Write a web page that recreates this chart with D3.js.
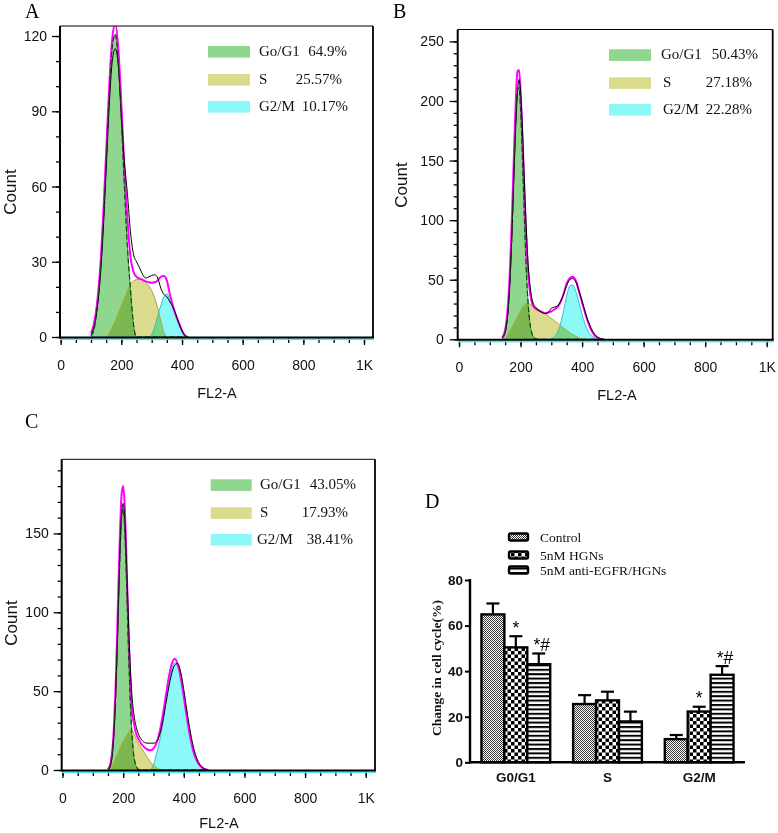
<!DOCTYPE html>
<html><head><meta charset="utf-8">
<script src="https://cdn.jsdelivr.net/npm/d3@7"></script>
<style>body{margin:0;background:#fff}svg{display:block}</style>
</head><body>
<svg id="fig" width="778" height="833"></svg>
<script>
// ---------- shared tick data ----------
const xMajor = [0,200,400,600,800,1000];
const xLabels = ["0","200","400","600","800","1K"];
const xMinor = [0,50,100,150,200,250,300,350,400,450,500,550,600,650,700,750,800,850,900,950,1000];

// ---------- Panel A ----------
const aX    = [100,110,120,130,140,150,160,170,180,190,200,210,220,230,240,250,260,270,280,290,300,310,320,330,340,350,360,370,380,390,400,410,420];
const aG1   = [0.5,3,12,25,45,70.7,96.9,115.8,120.7,109.6,86.8,60,36,19,5,0,0,0,0,0,0,0,0,0,0,0,0,0,0,0,0,0,0];
const aS    = [0,0,0,0,0,0,1.5,4,6.5,9.5,12.5,15.5,18.5,21,22.3,22.9,23,22.6,21.8,20.5,18.5,15.5,11.5,6.5,2,0,0,0,0,0,0,0,0];
const aG2   = [0,0,0,0,0,0,0,0,0,0,0,0,0,0,0,0,0,0,0,0,1,4,8.5,12.5,16,17.2,14.8,11.5,8,5,2,0.3,0];
const aFit  = [1.5,5.5,13.5,27,48,74,100,119,125,115,93,67,47,32,26,24,23.3,22.8,22.2,21.8,21.6,21.8,22.5,24,24.3,22.5,17,12.5,8.5,5.5,2.5,0.6,0];
const aData = [0.8,4,11,23,42,67,92,110,115,108,88,70,57,42,33,30,27.6,25,23.5,24,24.5,24.8,23.5,19.5,17,16,14,12,9,5.5,2.5,0.5,0];
const aYTicks = [0,30,60,90,120];
const aYMinor = [0,10,20,30,40,50,60,70,80,90,100,110,120];
const aLegend = [["Go/G1","64.9%"],["S","25.57%"],["G2/M","10.17%"]];

// ---------- Panel B ----------
const bX    = [140,145,150,155,160,165,170,175,180,185,190,195,200,205,210,215,220,225,230,235,240,250,260,270,280,290,300,310,320,330,340,350,360,370,380,390,400,410,420,430,440,450,460,470];
const bG1   = [0.9,2.4,5.8,12.7,25.4,46.1,75.8,113.1,153.2,188,209.3,211.3,193.6,160.8,121.2,82.8,51.3,28.8,14.7,6.8,2.9,0.3,0,0,0,0,0,0,0,0,0,0,0,0,0,0,0,0,0,0,0,0,0,0];
const bS    = [0,0,0,2,4,6.5,9,11.5,14,16.5,19,21.5,24,26,28,29.2,30,30,29.5,28.7,28,26.5,25,23.5,21.5,19.5,17.5,15.5,13.5,11.5,9.5,7.5,5.5,4,2.5,1.2,0.3,0,0,0,0,0,0,0];
const bG2   = [0,0,0,0,0,0,0,0,0,0,0,0,0,0,0,0,0,0,0,0,0,0,0,0,0,0,0.6,2,5.7,13,24.1,36.5,44.8,45.5,39.8,30.8,21,12.6,6.7,3.1,1.3,0.4,0,0];
const bFit  = [1.5,3.5,8,17,32,55,87,126,167,203,225,226,209,178,142,106,76,55,41,33,28.5,25.5,24,22.8,22,22.5,23.5,25,27,31,38,47,51.5,52.5,49,40,31,22,14,7.5,3.5,1.2,0.3,0];
const bData = [1,2.5,6,13,26,46,75,110,148,182,207,218,208,184,150,116,86,62,47,37,31,26.5,24,22.5,21.5,22.5,26,27,28,32,38,45,50,51,48,41,32,23,15,9,4.5,2,0.5,0];
const bYTicks = [0,50,100,150,200,250];
const bYMinor = [0,10,20,30,40,50,60,70,80,90,100,110,120,130,140,150,160,170,180,190,200,210,220,230,240,250];
const bLegend = [["Go/G1","50.43%"],["S","27.18%"],["G2/M","22.28%"]];

// ---------- Panel C ----------
const cX    = [150,155,160,165,170,175,180,185,190,195,200,205,210,215,220,225,230,235,240,245,250,260,270,280,290,300,310,320,330,340,350,360,370,380,390,400,410,420,430,440,450,460,470,480];
const cG1   = [0.7,2.2,5.6,12.7,25.6,46.1,74.4,107.4,138.7,160.2,165.6,153.2,126.8,94,62.3,37,19.6,9.3,4,1.5,0.5,0,0,0,0,0,0,0,0,0,0,0,0,0,0,0,0,0,0,0,0,0,0,0];
const cS    = [0,0,1,3,5,7.2,9.5,11.8,14,16,18,19.8,21.5,23,24.5,25.7,25,23,21,19,17,14,11,8,5,3,1.5,0.5,0,0,0,0,0,0,0,0,0,0,0,0,0,0,0,0];
const cG2   = [0,0,0,0,0,0,0,0,0,0,0,0,0,0,0,0,0,0,0,0,0,0,0,0,0.5,3,10.4,18.2,28.7,41.2,53.7,63.4,67.9,65.9,58,46.4,33.6,22.1,13.2,7.1,3.5,1.6,0.6,0];
const cFit  = [0.5,2,6,14,29,52,84,120,153,175,180,168,140,106,74,50,36,30,25,22,20,16.5,14.5,13,12.5,13.5,17,24,34,46,58,67,70.5,67,58.5,46.5,33.5,22,13,7,3.5,1.5,0.5,0];
const cData = [0.3,1,4,11,25,46,76,110,142,163,169,160,138,110,82,60,45,36,30,26,23,19.5,17.5,17,17,17,18,22,30,41,52,61,66.5,67.5,62,51,38,26,16,9,4.5,2,0.5,0];
const cYTicks = [0,50,100,150];
const cYMinor = [0,10,20,30,40,50,60,70,80,90,100,110,120,130,140,150,160,170,180,190];
const cLegend = [["Go/G1","43.05%"],["S","17.93%"],["G2/M","38.41%"]];

// ---------- Panel D ----------
const phases = ["G0/G1","S","G2/M"];
const groups = ["Control","5nM HGNs","5nM anti-EGFR/HGNs"];
const controlVals = [64.9,25.57,10.17];
const hgnVals     = [50.43,27.18,22.28];
const antiVals    = [43.05,17.93,38.41];
const controlErr  = [4.8,3.9,1.8];
const hgnErr      = [4.9,3.8,2.1];
const antiErr     = [4.7,4.3,3.8];
const dYTicks = [0,20,40,60,80];
const sigMarks = [["G0/G1",1,"*"],["G0/G1",2,"*#"],["G2/M",1,"*"],["G2/M",2,"*#"]];

// ---------- drawing ----------
const SANS = "'Liberation Sans', Arial, sans-serif";
const SERIF = "'Liberation Serif', 'Times New Roman', serif";
const GREEN = "#8fd68f", YELLOW = "#dadb8c", CYAN = "#8cf8f8";
const svg = d3.select("#fig");
const defs = svg.append("defs");

function drawHist(p){
  const x = d3.scaleLinear().domain([0,1000]).range([p.x0,p.x1000]);
  const y = d3.scaleLinear().domain([0,p.ymax]).range([p.y0,p.top]);
  const g = svg.append("g");
  defs.append("clipPath").attr("id","clip"+p.id).append("rect")
    .attr("x",p.left).attr("y",p.top).attr("width",p.right-p.left).attr("height",p.y0-p.top);
  const plot = g.append("g").attr("clip-path",`url(#clip${p.id})`);
  const fl = plot.append("g").style("isolation","isolate");
  const area = d3.area().x((d,i)=>x(p.xs[i])).y0(y(0)).y1(d=>y(d)).curve(d3.curveMonotoneX);
  const line = d3.line().x((d,i)=>x(p.xs[i])).y(d=>y(d)).curve(d3.curveMonotoneX);
  const comps = [[p.g1,GREEN,"#2f9f2f"],[p.s,YELLOW,"#a9a93c"],[p.g2,CYAN,"#3ab9c6"]];
  comps.forEach(c=>fl.append("path").datum(c[0]).attr("d",area).attr("fill",c[1]).style("mix-blend-mode","multiply"));
  comps.forEach(c=>plot.append("path").datum(c[0]).attr("d",line).attr("fill","none").attr("stroke",c[2]).attr("stroke-width",1));
  plot.append("path").datum(p.fit).attr("d",line).attr("fill","none").attr("stroke","#ff00ff").attr("stroke-width",2);
  plot.append("path").datum(p.data).attr("d",line).attr("fill","none").attr("stroke","#000").attr("stroke-width",1);
  plot.append("path").datum(p.g1).attr("d",line).attr("fill","none").attr("stroke","#1d3f1d").attr("stroke-width",1.2).attr("stroke-dasharray","5,3");

  // axes
  const ax = g.append("g");
  const yA = ax.append("g").attr("transform",`translate(${p.left},0)`)
    .call(d3.axisLeft(y).tickValues(p.yMajor).tickSize(8).tickPadding(p.yPad||5));
  const yM = ax.append("g").attr("transform",`translate(${p.left},0)`)
    .call(d3.axisLeft(y).tickValues(p.yMinor).tickSize(4).tickFormat(""));
  const xA = ax.append("g").attr("transform",`translate(0,${p.y0+1})`)
    .call(d3.axisBottom(x).tickValues(xMajor).tickSize(7).tickPadding(15).tickFormat((d,i)=>xLabels[i]));
  const xM = ax.append("g").attr("transform",`translate(0,${p.y0+1})`)
    .call(d3.axisBottom(x).tickValues(xMinor).tickSize(5).tickFormat(""));
  [yA,yM,xA,xM].forEach(s=>{
    s.select(".domain").remove();
    s.selectAll("line").attr("stroke","#000").attr("stroke-width",1.3);
    s.selectAll("text").attr("font-family",SANS).attr("font-size",14).attr("fill","#111");
  });
  // frame
  g.append("rect").attr("x",p.left).attr("y",p.y0+1.3).attr("width",p.right-p.left+1).attr("height",1.8).attr("fill","#4fe6f0");
  g.append("line").attr("x1",p.left).attr("x2",p.right+1).attr("y1",p.y0+0.5).attr("y2",p.y0+0.5).attr("stroke","#000").attr("stroke-width",2);
  g.append("line").attr("x1",p.left).attr("x2",p.left).attr("y1",p.top).attr("y2",p.y0+1.5).attr("stroke","#000").attr("stroke-width",2);
  g.append("line").attr("x1",p.left).attr("x2",p.right).attr("y1",p.top).attr("y2",p.top).attr("stroke","#000").attr("stroke-width",1);
  g.append("line").attr("x1",p.right).attr("x2",p.right).attr("y1",p.top).attr("y2",p.y0+1).attr("stroke","#000").attr("stroke-width",1.8);

  // titles
  g.append("text").attr("x",p.xTitle[0]).attr("y",p.xTitle[1]).attr("text-anchor","middle")
    .attr("font-family",SANS).attr("font-size",14.5).attr("fill","#111").text("FL2-A");
  g.append("text").attr("transform",`translate(${p.yTitle[0]},${p.yTitle[1]}) rotate(-90)`).attr("text-anchor","middle")
    .attr("font-family",SANS).attr("font-size",17).attr("fill","#111").text("Count");
  g.append("text").attr("x",p.letter[0]).attr("y",p.letter[1]).attr("font-family",SERIF).attr("font-size",20).text(p.id);

  // legend
  const sw = [GREEN, YELLOW, CYAN];
  p.legend.forEach((L,i)=>{
    g.append("rect").attr("x",p.lg.sx).attr("y",p.lg.rows[i]).attr("width",p.lg.sw).attr("height",11.6).attr("fill",sw[i]);
    g.append("text").attr("x",p.lg.lx[i]).attr("y",p.lg.rows[i]+10).attr("font-family",SERIF).attr("font-size",15).attr("fill","#111").text(L[0]);
    g.append("text").attr("x",p.lg.vx[i]).attr("y",p.lg.rows[i]+10).attr("text-anchor","end").attr("font-family",SERIF).attr("font-size",15).attr("fill","#111").text(L[1]);
  });
}

drawHist({id:"A", xs:aX, g1:aG1, s:aS, g2:aG2, fit:aFit, data:aData, yMajor:aYTicks, yMinor:aYMinor, legend:aLegend,
  x0:60.7, x1000:364, left:60, right:373, top:26, y0:337, ymax:124,
  xTitle:[217,398], yTitle:[15.5,192], letter:[25,18],
  lg:{sx:208, sw:42, rows:[46,74,101], lx:[259,259,259], vx:[347,342,348]}});
drawHist({id:"B", xs:bX, g1:bG1, s:bS, g2:bG2, fit:bFit, data:bData, yMajor:bYTicks, yMinor:bYMinor, legend:bLegend,
  x0:459, x1000:766.7, left:457.7, right:772.7, top:29.5, y0:339.3, ymax:260, yPad:6,
  xTitle:[617,400], yTitle:[406.5,185], letter:[393,18],
  lg:{sx:609, sw:42, rows:[49.3,77.3,104], lx:[661,663,663], vx:[758,752,752]}});
drawHist({id:"C", xs:cX, g1:cG1, s:cS, g2:cG2, fit:cFit, data:cData, yMajor:cYTicks, yMinor:cYMinor, legend:cLegend,
  x0:62.5, x1000:365.7, left:61.7, right:375, top:459.3, y0:770, ymax:197,
  xTitle:[219,828], yTitle:[16.5,623], letter:[25,428],
  lg:{sx:210.7, sw:41, rows:[479.3,507.3,534], lx:[260,260,257], vx:[356,348,353]}});

// ---------- Panel D : bar chart ----------
(function(){
  const pc = defs.append("pattern").attr("id","pCtrl").attr("patternUnits","userSpaceOnUse").attr("width",2).attr("height",2);
  pc.append("rect").attr("width",2).attr("height",2).attr("fill","#fff");
  pc.append("rect").attr("width",1).attr("height",1).attr("fill","#3a3a3a");
  pc.append("rect").attr("x",1).attr("y",1).attr("width",1).attr("height",1).attr("fill","#3a3a3a");
  const ph = defs.append("pattern").attr("id","pHgn").attr("patternUnits","userSpaceOnUse").attr("width",7).attr("height",7);
  ph.append("rect").attr("width",7).attr("height",7).attr("fill","#fff");
  ph.append("rect").attr("width",3.5).attr("height",3.5).attr("fill","#000");
  ph.append("rect").attr("x",3.5).attr("y",3.5).attr("width",3.5).attr("height",3.5).attr("fill","#000");
  const pa = defs.append("pattern").attr("id","pAnti").attr("patternUnits","userSpaceOnUse").attr("width",4).attr("height",4.4);
  pa.append("rect").attr("width",4).attr("height",4.4).attr("fill","#fff");
  pa.append("rect").attr("width",4).attr("height",2).attr("fill","#000");
  const fills = ["url(#pCtrl)","url(#pHgn)","url(#pAnti)"];
  const vals = [controlVals,hgnVals,antiVals];
  const errs = [controlErr,hgnErr,antiErr];

  const g = svg.append("g");
  const x = d3.scaleBand().domain(phases).range([470,745]).paddingInner(0.25).paddingOuter(0.125);
  const xs = d3.scaleBand().domain(d3.range(groups.length)).range([0,x.bandwidth()]);
  const y = d3.scaleLinear().domain([0,80]).range([762.3,580]);

  phases.forEach((ph,pi)=>{
    groups.forEach((gr,gi)=>{
      const v = vals[gi][pi], e = errs[gi][pi];
      const bx = x(ph)+xs(gi), cx = bx + xs.bandwidth()/2;
      g.append("line").attr("x1",cx).attr("x2",cx).attr("y1",y(v)).attr("y2",y(v+e)).attr("stroke","#000").attr("stroke-width",2.2);
      g.append("line").attr("x1",cx-6.5).attr("x2",cx+6.5).attr("y1",y(v+e)).attr("y2",y(v+e)).attr("stroke","#000").attr("stroke-width",2.2);
      g.append("rect").attr("x",bx).attr("y",y(v)).attr("width",xs.bandwidth()).attr("height",y(0)-y(v))
        .attr("fill",fills[gi]).attr("stroke","#000").attr("stroke-width",2.4);
    });
  });
  sigMarks.forEach(m=>{
    const pi = phases.indexOf(m[0]), gi = m[1];
    const cx = x(m[0])+xs(gi)+xs.bandwidth()/2 + (m[2].length>1?3:0);
    g.append("text").attr("x",cx).attr("y",y(vals[gi][pi]+errs[gi][pi])-2.5).attr("text-anchor","middle")
      .attr("font-family",SANS).attr("font-size",17.5).text(m[2]);
  });
  // axes
  const yA = g.append("g").attr("transform","translate(470,0)").call(d3.axisLeft(y).tickValues(dYTicks).tickSize(5).tickPadding(2));
  yA.select(".domain").remove();
  yA.selectAll("line").attr("stroke","#000").attr("stroke-width",2);
  yA.selectAll("text").attr("font-family",SANS).attr("font-weight","bold").attr("font-size",13.5).attr("fill","#111");
  g.append("line").attr("x1",470).attr("x2",470).attr("y1",y(80)-1).attr("y2",y(0)+1.2).attr("stroke","#000").attr("stroke-width",2.4);
  g.append("line").attr("x1",469).attr("x2",745).attr("y1",y(0)).attr("y2",y(0)).attr("stroke","#000").attr("stroke-width",2.4);
  phases.forEach(ph=>{
    g.append("text").attr("x",x(ph)+x.bandwidth()/2).attr("y",781.5).attr("text-anchor","middle")
      .attr("font-family",SANS).attr("font-weight","bold").attr("font-size",13.5).attr("fill","#111").text(ph);
  });
  g.append("text").attr("transform","translate(441,668) rotate(-90)").attr("text-anchor","middle")
    .attr("font-family",SERIF).attr("font-weight","bold").attr("font-size",13.5).attr("fill","#111").text("Change in cell cycle(%)");
  g.append("text").attr("x",425).attr("y",508).attr("font-family",SERIF).attr("font-size",20).text("D");
  // legend
  const rows = [537,555,570];
  groups.forEach((gr,gi)=>{
    g.append("rect").attr("x",509).attr("y",rows[gi]-3.5).attr("width",19).attr("height",7).attr("rx",1.5)
      .attr("fill",fills[gi]).attr("stroke","#000").attr("stroke-width",2.4);
    g.append("text").attr("x",540).attr("y",rows[gi]+4.5).attr("font-family",SERIF).attr("font-size",13.5).attr("fill","#111").text(gr);
  });
})();
</script>
</body></html>
